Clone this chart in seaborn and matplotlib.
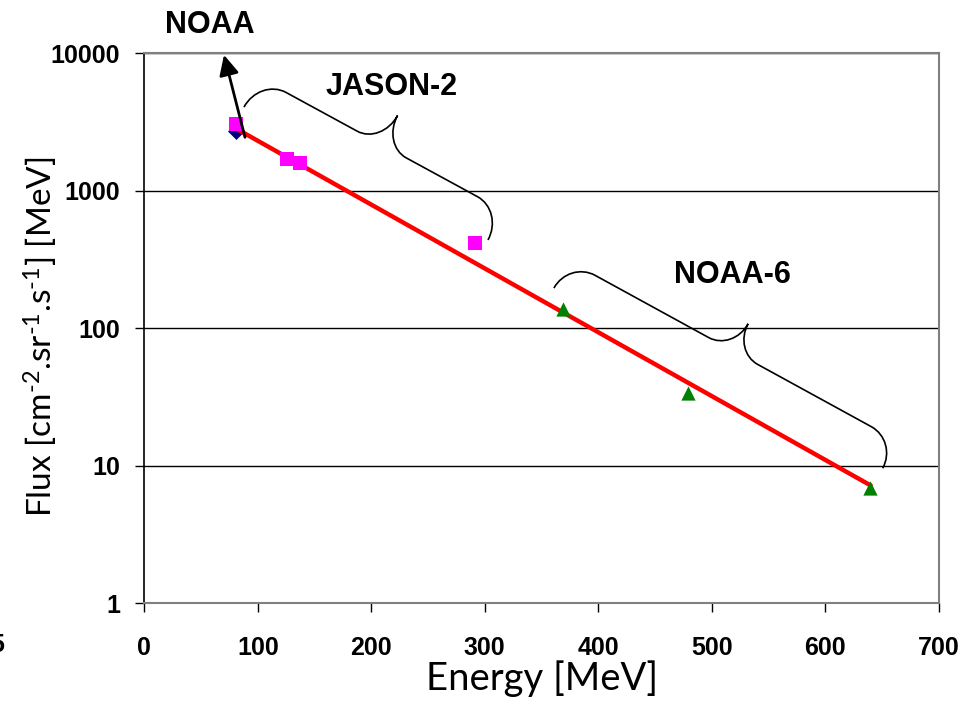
import matplotlib
matplotlib.use('Agg')
import matplotlib.pyplot as plt
import seaborn as sns
from matplotlib.path import Path
from matplotlib.patches import PathPatch

# measured points (energy in MeV, flux)
noaa_energy = [81]
noaa_flux = [2700]
jason_energy = [80.5, 125.5, 137, 291]
jason_flux = [3050, 1700, 1600, 415]
noaa6_energy = [369, 479, 639]
noaa6_flux = [138, 34, 6.9]

# fitted line end points
fit_energy = [80, 640]
fit_flux = [2860, 7.2]

x_ticks = [0, 100, 200, 300, 400, 500, 600, 700]
x_tick_labels = ['0', '100', '200', '300', '400', '500', '600', '700']
y_ticks = [1, 10, 100, 1000, 10000]
y_tick_labels = ['1', '10', '100', '1000', '10000']

# annotation anchors (data coords)
label_noaa = (58, 14100)
label_jason = (218, 4980)
label_noaa6 = (518, 212)
arrow_tail = (88.7, 2450)
arrow_tip = (70.2, 9730)
brace_jason = [(87.8, 4060), (302.8, 439)]
brace_noaa6 = [(360.9, 196), (650.6, 9.6)]

sns.set_style('white')
plt.rcParams['font.family'] = ['Liberation Sans', 'DejaVu Sans']
plt.rcParams['mathtext.fontset'] = 'custom'
plt.rcParams['mathtext.rm'] = 'Lato'
plt.rcParams['mathtext.it'] = 'Lato'
plt.rcParams['mathtext.default'] = 'regular'
for key in ['text.color', 'axes.labelcolor', 'xtick.color', 'ytick.color']:
    plt.rcParams[key] = 'black'

fig = plt.figure(figsize=(9.66, 7.21), dpi=100)
ax = fig.add_axes([0.1494, 0.1632, 0.8224, 0.7629])

ax.set_yscale('log')
ax.set_xlim(0, 700)
ax.set_ylim(1, 10000)

sns.lineplot(x=fit_energy, y=fit_flux, color='#FF0000', lw=3.2, ax=ax, zorder=3)
sns.scatterplot(x=noaa_energy, y=noaa_flux, marker='D', color='#000080', s=75,
                linewidth=0, ax=ax, zorder=2)
sns.scatterplot(x=jason_energy, y=jason_flux, marker='s', color='#FF00FF', s=88,
                linewidth=0, ax=ax, zorder=4)
sns.scatterplot(x=noaa6_energy, y=noaa6_flux, marker='^', color='#008000', s=105,
                linewidth=0, ax=ax, zorder=4)

# grid + frame
ax.set_axisbelow(True)
ax.yaxis.grid(True, color='black', lw=1)
ax.xaxis.grid(False)
for side in ['top', 'right', 'bottom']:
    ax.spines[side].set_color('#808080')
    ax.spines[side].set_linewidth(1.5)
ax.spines['left'].set_color('black')
ax.spines['left'].set_linewidth(1.2)

ax.set_xticks(x_ticks, x_tick_labels)
ax.set_yticks(y_ticks, y_tick_labels)
ax.minorticks_off()
ax.tick_params(axis='both', direction='out', length=6.5, width=1, color='black',
               labelsize=18, labelcolor='black', bottom=True, left=True)
ax.tick_params(axis='x', pad=17)
ax.tick_params(axis='y', pad=11)
for lbl in ax.get_xticklabels() + ax.get_yticklabels():
    lbl.set_fontweight('bold')

lab_font = ['Lato', 'DejaVu Sans']
ax.set_xlabel('Energy [MeV]', fontsize=27.5, family=lab_font, va='top', color='black')
ax.xaxis.set_label_coords(0.501, -0.104)
ax.set_ylabel(r'Flux [cm$^{\text{-2}}$.sr$^{\text{-1}}$.s$^{\text{-1}}$] [MeV]',
              fontsize=24, family=lab_font, color='black')
ax.yaxis.set_label_coords(-0.106, 0.484)

# group labels
for name, pos in [('NOAA', label_noaa), ('JASON-2', label_jason), ('NOAA-6', label_noaa6)]:
    ax.text(pos[0], pos[1], name, ha='center', va='baseline', fontsize=22,
            fontweight='bold', color='black', clip_on=False)

ax.annotate('', xy=arrow_tip, xytext=arrow_tail,
            arrowprops=dict(arrowstyle='-|>,head_length=0.45,head_width=0.22',
                            color='black', lw=2, mutation_scale=27,
                            shrinkA=0, shrinkB=0),
            annotation_clip=False, zorder=5)


def draw_brace(ax, p0, p1, depth, end_r=30, mid_r=28):
    # build brace in pixel space, then map to axes coords (affine) for the patch
    a = ax.transData.transform(p0)
    b = ax.transData.transform(p1)
    d = b - a
    L = (d[0] ** 2 + d[1] ** 2) ** 0.5
    ux = d / L
    vx = [-ux[1], ux[0]]
    h = depth / 2.0
    k = 0.5523
    m = L / 2.0
    local = [
        (0, 0), (0, k * h), (end_r - k * end_r, h), (end_r, h),
        (m - mid_r, h),
        (m - mid_r + k * mid_r, h), (m, 2 * h - k * h), (m, 2 * h),
        (m, 2 * h - k * h), (m + mid_r - k * mid_r, h), (m + mid_r, h),
        (L - end_r, h),
        (L - end_r + k * end_r, h), (L, k * h), (L, 0),
    ]
    codes = ([Path.MOVETO] + [Path.CURVE4] * 3 + [Path.LINETO] + [Path.CURVE4] * 6
             + [Path.LINETO] + [Path.CURVE4] * 3)
    pix = [(a[0] + u * ux[0] + v * vx[0], a[1] + u * ux[1] + v * vx[1]) for u, v in local]
    axc = ax.transAxes.inverted().transform(pix)
    patch = PathPatch(Path(axc, codes), transform=ax.transAxes, fill=False,
                      edgecolor='black', lw=1.2, clip_on=False, zorder=5)
    ax.add_patch(patch)


draw_brace(ax, *brace_jason, depth=66)
draw_brace(ax, *brace_noaa6, depth=62)

# stray clipped label at the left edge of the original
fig.text(4 / 966, 1 - 645 / 721, '5', ha='right', va='center', fontsize=18,
         fontweight='bold', color='black')

fig.savefig('out.png', dpi=100)
